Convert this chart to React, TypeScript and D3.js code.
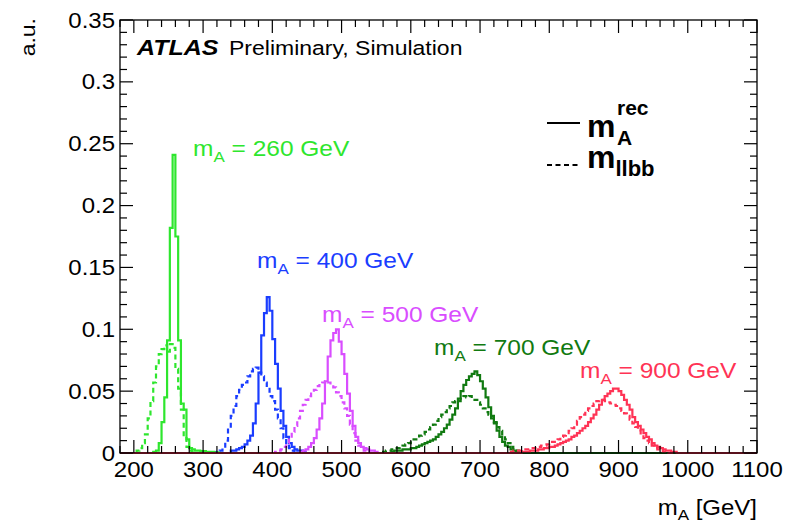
import React from "react";
import * as d3 from "d3";

// ---------- data ----------
const BIN_WIDTH = 4; // GeV
const X_DOMAIN = [180, 1100];
const Y_DOMAIN = [0, 0.35];

const xTickValues = [200, 300, 400, 500, 600, 700, 800, 900, 1000, 1100];
const yTickValues = [0, 0.05, 0.1, 0.15, 0.2, 0.25, 0.3, 0.35];
const yTickLabels = ["0", "0.05", "0.1", "0.15", "0.2", "0.25", "0.3", "0.35"];

const masses = [260, 400, 500, 700, 900];
const massColors = ["#2ee62e", "#1a3dff", "#d94dff", "#117a11", "#ff3355"];

// m_A^rec (solid), bin contents starting at given GeV
const rec260Start = 228;
const rec260 = [0.001, 0.002, 0.008, 0.025, 0.045, 0.091, 0.182, 0.241, 0.175, 0.091, 0.04, 0.035, 0.011, 0.004, 0.003, 0.002, 0.002, 0.0015, 0.0015, 0.001, 0.001, 0.001, 0.0008, 0.0005];
const rec400Start = 340;
const rec400 = [0.002, 0.002, 0.003, 0.004, 0.005, 0.007, 0.01, 0.014, 0.024, 0.04, 0.065, 0.095, 0.113, 0.126, 0.115, 0.092, 0.072, 0.052, 0.034, 0.022, 0.013, 0.008, 0.005, 0.003, 0.002, 0.002, 0.001];
const rec500Start = 440;
const rec500 = [0.001, 0.002, 0.003, 0.005, 0.008, 0.012, 0.019, 0.028, 0.04, 0.058, 0.078, 0.091, 0.097, 0.1, 0.09, 0.08, 0.064, 0.048, 0.034, 0.022, 0.013, 0.008, 0.005, 0.004, 0.003, 0.002, 0.002, 0.001];
const rec700Start = 572;
const rec700 = [0.001, 0.002, 0.002, 0.002, 0.003, 0.003, 0.003, 0.004, 0.004, 0.005, 0.006, 0.007, 0.008, 0.009, 0.01, 0.011, 0.013, 0.015, 0.017, 0.02, 0.023, 0.027, 0.031, 0.036, 0.042, 0.05, 0.055, 0.059, 0.062, 0.064, 0.066, 0.063, 0.058, 0.052, 0.045, 0.037, 0.03, 0.024, 0.018, 0.013, 0.009, 0.006, 0.005, 0.003, 0.002, 0.001];
const rec900Start = 760;
const rec900 = [0.001, 0.001, 0.001, 0.002, 0.002, 0.002, 0.003, 0.003, 0.004, 0.004, 0.005, 0.005, 0.006, 0.007, 0.008, 0.009, 0.01, 0.011, 0.013, 0.014, 0.016, 0.018, 0.02, 0.022, 0.025, 0.028, 0.031, 0.035, 0.039, 0.043, 0.046, 0.048, 0.05, 0.052, 0.052, 0.05, 0.047, 0.043, 0.039, 0.035, 0.029, 0.025, 0.022, 0.019, 0.016, 0.013, 0.011, 0.008, 0.006, 0.005, 0.004, 0.003, 0.002, 0.002, 0.001, 0.001];

// m_llbb (dashed)
const llbb260Start = 200;
const llbb260 = [0.001, 0.002, 0.004, 0.008, 0.015, 0.028, 0.042, 0.057, 0.07, 0.08, 0.084, 0.087, 0.082, 0.088, 0.085, 0.068, 0.052, 0.035, 0.013, 0.005, 0.002, 0.001];
const llbb400Start = 320;
const llbb400 = [0.001, 0.002, 0.004, 0.01, 0.02, 0.03, 0.038, 0.046, 0.051, 0.055, 0.057, 0.062, 0.066, 0.068, 0.069, 0.065, 0.062, 0.057, 0.053, 0.046, 0.042, 0.035, 0.028, 0.02, 0.012, 0.007, 0.004, 0.002, 0.001];
const llbb500Start = 404;
const llbb500 = [0.001, 0.002, 0.003, 0.005, 0.008, 0.012, 0.017, 0.022, 0.028, 0.034, 0.039, 0.043, 0.046, 0.049, 0.051, 0.054, 0.056, 0.057, 0.058, 0.057, 0.055, 0.053, 0.049, 0.046, 0.041, 0.036, 0.03, 0.023, 0.016, 0.01, 0.006, 0.003, 0.002, 0.001];
const llbb700Start = 560;
const llbb700 = [0.001, 0.002, 0.002, 0.003, 0.004, 0.004, 0.005, 0.006, 0.007, 0.008, 0.01, 0.011, 0.012, 0.014, 0.015, 0.017, 0.019, 0.021, 0.023, 0.026, 0.029, 0.031, 0.033, 0.036, 0.038, 0.041, 0.042, 0.044, 0.045, 0.046, 0.045, 0.046, 0.044, 0.043, 0.041, 0.039, 0.036, 0.033, 0.031, 0.028, 0.025, 0.021, 0.018, 0.014, 0.011, 0.008, 0.005, 0.003, 0.002, 0.001];
const llbb900Start = 740;
const llbb900 = [0.001, 0.001, 0.002, 0.002, 0.002, 0.003, 0.003, 0.003, 0.004, 0.004, 0.005, 0.005, 0.006, 0.006, 0.007, 0.008, 0.009, 0.01, 0.011, 0.013, 0.014, 0.016, 0.018, 0.02, 0.023, 0.026, 0.029, 0.031, 0.034, 0.036, 0.038, 0.04, 0.042, 0.043, 0.043, 0.042, 0.041, 0.04, 0.039, 0.038, 0.036, 0.034, 0.032, 0.03, 0.027, 0.024, 0.021, 0.018, 0.015, 0.012, 0.01, 0.008, 0.006, 0.004, 0.003, 0.002, 0.001, 0.001];

const recStarts = [rec260Start, rec400Start, rec500Start, rec700Start, rec900Start];
const recValues = [rec260, rec400, rec500, rec700, rec900];
const llbbStarts = [llbb260Start, llbb400Start, llbb500Start, llbb700Start, llbb900Start];
const llbbValues = [llbb260, llbb400, llbb500, llbb700, llbb900];

// ---------- layout ----------
const W = 800;
const H = 525;
const L = 120;
const R = 757;
const T = 20;
const B = 453;
const SY = 0.9; // vertical text squash
const FONT = "'Liberation Sans', Arial, Helvetica, sans-serif";

const x = d3.scaleLinear().domain(X_DOMAIN).range([L, R]);
const y = d3.scaleLinear().domain(Y_DOMAIN).range([B, T]);

function histPoints(start: number, vals: number[]): [number, number][] {
  const pts: [number, number][] = [];
  const nBins = Math.round((X_DOMAIN[1] - X_DOMAIN[0]) / BIN_WIDTH);
  for (let i = 0; i < nBins; i++) {
    const lo = X_DOMAIN[0] + i * BIN_WIDTH;
    const hi = lo + BIN_WIDTH;
    const k = Math.round((lo - start) / BIN_WIDTH);
    const v = k >= 0 && k < vals.length ? vals[k] : 0;
    pts.push([lo, v], [hi, v]);
  }
  return pts;
}

const lineGen = d3
  .line<[number, number]>()
  .x((d) => x(d[0]))
  .y((d) => y(d[1]));

function Txt(props: {
  x: number;
  y: number;
  size: number;
  anchor?: string;
  weight?: string | number;
  italic?: boolean;
  fill?: string;
  rotate?: number;
  children: React.ReactNode;
}) {
  const { rotate = 0 } = props;
  return (
    <text
      transform={`translate(${props.x},${props.y}) rotate(${rotate}) scale(1,${SY})`}
      fontSize={props.size}
      fontFamily={FONT}
      textAnchor={props.anchor || "start"}
      fontWeight={props.weight || "normal"}
      fontStyle={props.italic ? "italic" : "normal"}
      fill={props.fill || "#000"}
    >
      {props.children}
    </text>
  );
}

export default function App() {
  const xMinor = d3.range(X_DOMAIN[0], X_DOMAIN[1] + 0.1, 20);
  const yMinor = d3.range(0, 0.3501, 0.01);
  const labelPos: [number, number][] = [
    [193, 156],
    [257, 268],
    [322, 322],
    [434, 355],
    [580, 378],
  ];

  return (
    <svg
      width={W}
      height={H}
      style={{ position: "absolute", left: 0, top: 0, background: "#fff" }}
    >
      <rect x={0} y={0} width={W} height={H} fill="#fff" />

      {/* histograms */}
      {masses.map((m, i) => (
        <g key={m}>
          <path
            d={lineGen(histPoints(llbbStarts[i], llbbValues[i])) || ""}
            fill="none"
            stroke={massColors[i]}
            strokeWidth={2.2}
            strokeDasharray="5,3.5"
          />
          <path
            d={lineGen(histPoints(recStarts[i], recValues[i])) || ""}
            fill="none"
            stroke={massColors[i]}
            strokeWidth={2.2}
          />
        </g>
      ))}

      {/* frame */}
      <rect x={L} y={T} width={R - L} height={B - T} fill="none" stroke="#000" strokeWidth={1.3} />

      {/* x ticks */}
      {xMinor.map((v) => {
        const major = xTickValues.includes(Math.round(v));
        const len = major ? 13 : 7;
        return (
          <g key={"xt" + v}>
            <line x1={x(v)} x2={x(v)} y1={B} y2={B - len} stroke="#000" strokeWidth={1.2} />
            <line x1={x(v)} x2={x(v)} y1={T} y2={T + len} stroke="#000" strokeWidth={1.2} />
          </g>
        );
      })}
      {/* y ticks */}
      {yMinor.map((v, i) => {
        const major = i % 5 === 0;
        const len = major ? 13 : 7;
        return (
          <g key={"yt" + i}>
            <line x1={L} x2={L + len} y1={y(v)} y2={y(v)} stroke="#000" strokeWidth={1.2} />
            <line x1={R} x2={R - len} y1={y(v)} y2={y(v)} stroke="#000" strokeWidth={1.2} />
          </g>
        );
      })}

      {/* tick labels */}
      {xTickValues.map((v) => (
        <Txt key={"xl" + v} x={x(v)} y={477} size={24} anchor="middle">
          {String(v)}
        </Txt>
      ))}
      {yTickValues.map((v, i) => (
        <Txt key={"yl" + i} x={115} y={y(v) + 7.5} size={24} anchor="end">
          {yTickLabels[i]}
        </Txt>
      ))}

      {/* axis titles */}
      <Txt x={35} y={18} size={23} anchor="end" rotate={-90}>
        a.u.
      </Txt>
      <text
        transform={`translate(757,515) scale(1,${SY})`}
        fontSize={24}
        fontFamily={FONT}
        textAnchor="end"
      >
        m<tspan fontSize={17} dy={5}>A</tspan>
        <tspan dy={-5}> [GeV]</tspan>
      </text>

      {/* ATLAS label */}
      <Txt x={137} y={55} size={25} weight="bold" italic>
        ATLAS
      </Txt>
      <Txt x={229} y={55} size={23}>
        Preliminary, Simulation
      </Txt>

      {/* mass labels */}
      {masses.map((m, i) => (
        <text
          key={"ml" + m}
          transform={`translate(${labelPos[i][0]},${labelPos[i][1]}) scale(1,${SY})`}
          fontSize={24.5}
          fontFamily={FONT}
          fill={massColors[i]}
        >
          m<tspan fontSize={17} dy={7}>A</tspan>
          <tspan dy={-7}>{` = ${m} GeV`}</tspan>
        </text>
      ))}

      {/* legend */}
      <line x1={547} x2={580} y1={123} y2={123} stroke="#000" strokeWidth={2} />
      <line x1={547} x2={580} y1={165} y2={165} stroke="#000" strokeWidth={2} strokeDasharray="5,3.5" />
      <text transform={`translate(587,137)`} fontSize={32} fontFamily={FONT} fontWeight="bold">
        m
      </text>
      <text transform={`translate(617,115)`} fontSize={21} fontFamily={FONT} fontWeight="bold">
        rec
      </text>
      <text transform={`translate(617,145)`} fontSize={21} fontFamily={FONT} fontWeight="bold">
        A
      </text>
      <text transform={`translate(587,168)`} fontSize={32} fontFamily={FONT} fontWeight="bold">
        m<tspan fontSize={22} dy={8}>llbb</tspan>
      </text>
    </svg>
  );
}
